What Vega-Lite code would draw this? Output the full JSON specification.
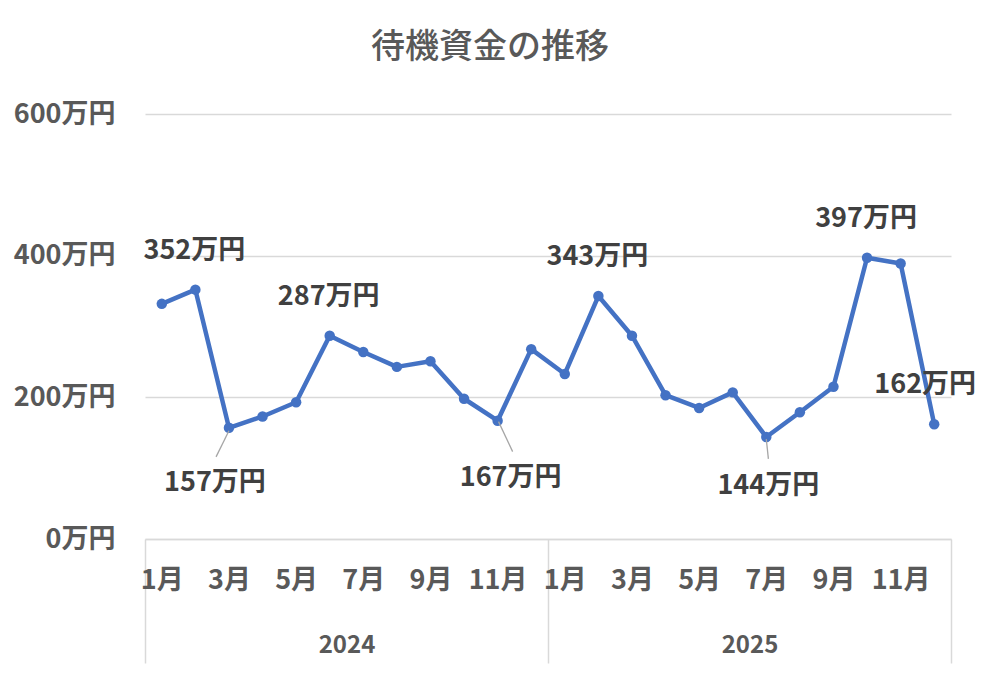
{
  "$schema": "https://vega.github.io/schema/vega-lite/v6.json",
  "autosize": {"type": "none"},
  "padding": {"left": 145, "top": 114, "right": 33, "bottom": 136},
  "width": 806,
  "height": 425,
  "background": "#ffffff",
  "config": {
    "view": {"stroke": null},
    "font": "Noto Sans CJK JP"
  },
  "title": {
    "text": "待機資金の推移",
    "font": "Noto Sans CJK JP",
    "fontSize": 34,
    "fontWeight": 500,
    "color": "#595959",
    "anchor": "middle",
    "dx": -58,
    "offset": 35
  },
  "data": {
    "values": [
      {"year": 2024, "month": 1, "i": 1, "value": 332},
      {"year": 2024, "month": 2, "i": 2, "value": 352},
      {"year": 2024, "month": 3, "i": 3, "value": 157},
      {"year": 2024, "month": 4, "i": 4, "value": 173},
      {"year": 2024, "month": 5, "i": 5, "value": 193},
      {"year": 2024, "month": 6, "i": 6, "value": 287},
      {"year": 2024, "month": 7, "i": 7, "value": 264},
      {"year": 2024, "month": 8, "i": 8, "value": 243},
      {"year": 2024, "month": 9, "i": 9, "value": 251},
      {"year": 2024, "month": 10, "i": 10, "value": 198},
      {"year": 2024, "month": 11, "i": 11, "value": 167},
      {"year": 2024, "month": 12, "i": 12, "value": 268},
      {"year": 2025, "month": 1, "i": 13, "value": 233},
      {"year": 2025, "month": 2, "i": 14, "value": 343},
      {"year": 2025, "month": 3, "i": 15, "value": 287},
      {"year": 2025, "month": 4, "i": 16, "value": 203},
      {"year": 2025, "month": 5, "i": 17, "value": 185},
      {"year": 2025, "month": 6, "i": 18, "value": 207},
      {"year": 2025, "month": 7, "i": 19, "value": 144},
      {"year": 2025, "month": 8, "i": 20, "value": 179},
      {"year": 2025, "month": 9, "i": 21, "value": 215},
      {"year": 2025, "month": 10, "i": 22, "value": 397},
      {"year": 2025, "month": 11, "i": 23, "value": 389},
      {"year": 2025, "month": 12, "i": 24, "value": 162}
    ]
  },
  "encoding": {
    "y": {
      "field": "value",
      "type": "quantitative",
      "title": null,
      "scale": {"domain": [0, 600], "nice": false},
      "axis": {
        "values": [0, 200, 400, 600],
        "labelExpr": "datum.value + '万円'",
        "grid": true,
        "gridColor": "#d9d9d9",
        "gridWidth": 1.5,
        "domain": false,
        "ticks": false,
        "labelPadding": 30,
        "labelFont": "Noto Sans CJK JP",
        "labelFontSize": 27,
        "labelFontWeight": "bold",
        "labelColor": "#595959"
      }
    }
  },
  "layer": [
    {
      "mark": {"type": "line", "color": "#4472C4", "strokeWidth": 4.5, "strokeJoin": "round"},
      "encoding": {
        "x": {
          "field": "i",
          "type": "quantitative",
          "title": null,
          "scale": {"domain": [0.5, 24.5], "nice": false, "zero": false},
          "axis": {
            "orient": "bottom",
            "zindex": 2,
            "values": [1, 3, 5, 7, 9, 11, 13, 15, 17, 19, 21, 23],
            "labelExpr": "((datum.value - 1) % 12 + 1) + '月'",
            "grid": false,
            "ticks": false,
            "tickSize": 0,
            "domain": true,
            "domainColor": "#d9d9d9",
            "domainWidth": 1.5,
            "labelPadding": 28,
            "labelFlush": false,
            "labelOverlap": false,
            "labelFont": "Noto Sans CJK JP",
            "labelFontSize": 27,
            "labelFontWeight": "bold",
            "labelColor": "#595959"
          }
        }
      }
    },
    {
      "mark": {"type": "point", "filled": true, "color": "#4472C4", "size": 110, "opacity": 1},
      "encoding": {
        "x": {
          "field": "i",
          "type": "quantitative",
          "title": null,
          "scale": {"domain": [0.5, 24.5], "nice": false, "zero": false},
          "axis": {
            "orient": "bottom",
            "zindex": 1,
            "values": [0.5, 6.5, 12.5, 18.5, 24.5],
            "labelExpr": "datum.value == 6.5 ? '2024' : datum.value == 18.5 ? '2025' : ''",
            "grid": false,
            "domain": false,
            "ticks": true,
            "tickSize": 124,
            "tickColor": "#d9d9d9",
            "tickWidth": 1.5,
            "tickOpacity": {"condition": {"test": "datum.value == 6.5 || datum.value == 18.5", "value": 0}, "value": 1},
            "labelPadding": -30,
            "labelFlush": false,
            "labelOverlap": false,
            "labelFont": "Noto Sans CJK JP",
            "labelFontSize": 24,
            "labelFontWeight": "bold",
            "labelColor": "#595959"
          }
        }
      }
    },
    {
      "transform": [{"filter": {"field": "i", "oneOf": [3, 11, 19]}}],
      "mark": {"type": "point", "filled": false, "color": "#a6a6a6", "strokeWidth": 1.3, "size": 3600, "opacity": 1},
      "encoding": {
        "x": {"field": "i", "type": "quantitative", "title": null, "scale": {"domain": [0.5, 24.5], "nice": false, "zero": false}, "axis": null},
        "shape": {
          "field": "i",
          "type": "nominal",
          "legend": null,
          "scale": {
            "domain": [3, 11, 19],
            "range": ["M0,0.1L-0.43,0.97", "M0.03,0.03L0.5,1.03", "M0,0.07L0.07,0.73"]
          }
        }
      }
    },
    {
      "transform": [
        {"filter": {"field": "i", "oneOf": [2, 6, 14, 22]}},
        {"calculate": "datum.value + '万円'", "as": "label"}
      ],
      "mark": {"type": "text", "font": "Noto Sans CJK JP", "fontSize": 27, "fontWeight": "bold", "color": "#404040", "baseline": "middle", "align": "center", "dx": -1, "dy": -39},
      "encoding": {
        "x": {"field": "i", "type": "quantitative", "title": null, "scale": {"domain": [0.5, 24.5], "nice": false, "zero": false}, "axis": null},
        "text": {"field": "label", "type": "nominal"}
      }
    },
    {
      "transform": [
        {"filter": {"field": "i", "equal": 24}},
        {"calculate": "datum.value + '万円'", "as": "label"}
      ],
      "mark": {"type": "text", "font": "Noto Sans CJK JP", "fontSize": 27, "fontWeight": "bold", "color": "#404040", "baseline": "middle", "align": "center", "dx": -9, "dy": -39},
      "encoding": {
        "x": {"field": "i", "type": "quantitative", "title": null, "scale": {"domain": [0.5, 24.5], "nice": false, "zero": false}, "axis": null},
        "text": {"field": "label", "type": "nominal"}
      }
    },
    {
      "transform": [
        {"filter": {"field": "i", "equal": 3}},
        {"calculate": "datum.value + '万円'", "as": "label"}
      ],
      "mark": {"type": "text", "font": "Noto Sans CJK JP", "fontSize": 27, "fontWeight": "bold", "color": "#404040", "baseline": "middle", "align": "center", "dx": -14, "dy": 55},
      "encoding": {
        "x": {"field": "i", "type": "quantitative", "title": null, "scale": {"domain": [0.5, 24.5], "nice": false, "zero": false}, "axis": null},
        "text": {"field": "label", "type": "nominal"}
      }
    },
    {
      "transform": [
        {"filter": {"field": "i", "equal": 11}},
        {"calculate": "datum.value + '万円'", "as": "label"}
      ],
      "mark": {"type": "text", "font": "Noto Sans CJK JP", "fontSize": 27, "fontWeight": "bold", "color": "#404040", "baseline": "middle", "align": "center", "dx": 13, "dy": 57},
      "encoding": {
        "x": {"field": "i", "type": "quantitative", "title": null, "scale": {"domain": [0.5, 24.5], "nice": false, "zero": false}, "axis": null},
        "text": {"field": "label", "type": "nominal"}
      }
    },
    {
      "transform": [
        {"filter": {"field": "i", "equal": 19}},
        {"calculate": "datum.value + '万円'", "as": "label"}
      ],
      "mark": {"type": "text", "font": "Noto Sans CJK JP", "fontSize": 27, "fontWeight": "bold", "color": "#404040", "baseline": "middle", "align": "center", "dx": 2, "dy": 49},
      "encoding": {
        "x": {"field": "i", "type": "quantitative", "title": null, "scale": {"domain": [0.5, 24.5], "nice": false, "zero": false}, "axis": null},
        "text": {"field": "label", "type": "nominal"}
      }
    }
  ],
  "resolve": {"axis": {"x": "independent"}}
}
